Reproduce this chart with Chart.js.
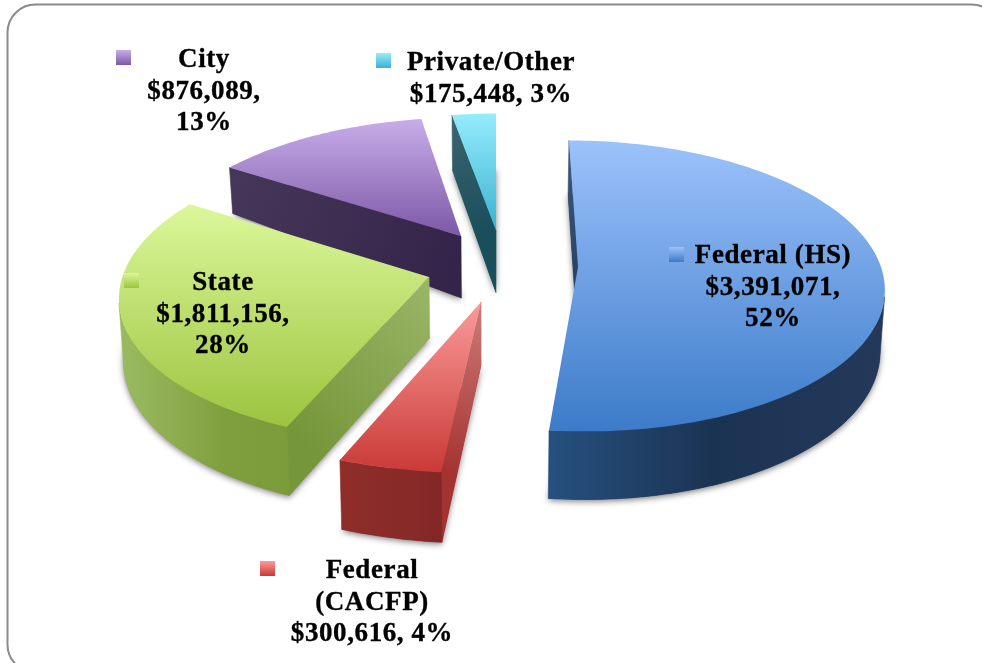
<!DOCTYPE html>
<html>
<head>
<meta charset="utf-8">
<title>Funding sources</title>
<script src="https://cdn.jsdelivr.net/npm/chart.js@4"></script>
<style>
  html, body { margin: 0; padding: 0; background: #fff; overflow: hidden; }
  canvas { display: block; }
</style>
</head>
<body>
<canvas id="pie" width="982" height="663"></canvas>
<script>
// data, in the order the slices run clockwise from the top
const categories = ['Federal (HS)', 'Federal (CACFP)', 'State', 'City', 'Private/Other'];
const amounts = [3391071, 300616, 1811156, 876089, 175448];
const labelLines = [
  ['Federal (HS)', '$3,391,071,', '52%'],
  ['Federal', '(CACFP)', '$300,616, 4%'],
  ['State', '$1,811,156,', '28%'],
  ['City', '$876,089,', '13%'],
  ['Private/Other', '$175,448, 3%']
];

// label placement
const labelX = [773, 372, 223, 204, 491];
const labelY = [263, 578, 290, 67, 70];
const keyX = [669, 260, 124, 116, 376];
const keyY = [247, 561, 273, 50, 53];

// fake 3d: how each exploded slice sits relative to the chart centre
const shiftX = [87, -10, -62, -30, 5];
const shiftY = [-64.5, -29.5, -54.5, -95.5, -101];
const radiusScale = [0.914, 1.1, 0.925, 0.92, 0.793];
const tilt = [0.472, 0.47, 0.473, 0.4658, 0.445];
const persp = [0.13, 0, 0.117, 0.2, 0];
const shear = [9, 0, -10, -3, 0];
const depth = [60, 63, 61, 62, 62];
const depthPersp = [0.12, 0.1, 0.12, 0.65, 0.127];
const drawOrder = [4, 3, 0, 2, 1];

// top face gradient, rim wall gradient (left to right), cut wall gradient (rim to apex)
const topColors = [['#9cc2fb', '#3c7bc9'], ['#fb9b9a', '#c93a36'], ['#dcf79b', '#9cc43f'], ['#c7ade9', '#7d58a6'], ['#95ecfd', '#3cb1cf']];
const rimColors = [['#26507f', '#1b3352', '#24395a'], ['#8f2d2a', '#872a28', '#7d2423'], ['#9aba60', '#7f9f3e', '#7a9a3a', '#759538'], ['#46385a', '#3a2a50', '#35244a'], ['#3d6570', '#2c5a66', '#194e5c']];
const cutColors = [['#3e5a80', '#2a4468'], ['#a33330', '#cf7a78'], ['#76963a', '#9ab668'], ['#46385a', '#35244a'], ['#3d6570', '#194e5c']];
const shadowColors = 'rgba(0,0,0,0.5)';

function project(arc, i, angle, r, low) {
  const u = r * Math.cos(angle), v = r * Math.sin(angle);
  const R = arc.outerRadius * radiusScale[i];
  const s = 1 / (1 - persp[i] * v);
  let x = arc.x + shiftX[i] + R * u * s + shear[i] * v;
  let y = arc.y + shiftY[i] + R * tilt[i] * v * s;
  if (low) {
    y += depth[i] / (1 - depthPersp[i] * v);
    x += (arc.x - x) * 0.012;
  }
  return { x, y };
}

function trace(ctx, pts) {
  ctx.beginPath();
  pts.forEach((p, n) => n ? ctx.lineTo(p.x, p.y) : ctx.moveTo(p.x, p.y));
  ctx.closePath();
}

function gradient(ctx, x0, y0, x1, y1, colors) {
  const g = ctx.createLinearGradient(x0, y0, x1, y1);
  colors.forEach((c, n) => g.addColorStop(n / (colors.length - 1), c));
  return g;
}

function signedArea(pts) {
  let a = 0;
  pts.forEach((p, n) => {
    const q = pts[(n + 1) % pts.length];
    a += p.x * q.y - q.x * p.y;
  });
  return a;
}

function fillWall(ctx, pts, style) {
  trace(ctx, pts);
  ctx.fillStyle = style;
  ctx.strokeStyle = style;
  ctx.lineWidth = 0.6;
  ctx.fill();
  ctx.stroke();
}

function drawSlice(ctx, arc, i) {
  const steps = Math.max(2, Math.ceil((arc.endAngle - arc.startAngle) / 0.02));
  const top = [project(arc, i, arc.startAngle, 0, false)];
  const low = [project(arc, i, arc.startAngle, 0, true)];
  for (let n = 0; n <= steps; n++) {
    const a = arc.startAngle + (arc.endAngle - arc.startAngle) * n / steps;
    top.push(project(arc, i, a, 1, false));
    low.push(project(arc, i, a, 1, true));
  }

  // soft shadow thrown by the underside
  ctx.save();
  ctx.shadowColor = shadowColors;
  ctx.shadowBlur = 6;
  ctx.shadowOffsetY = 2;
  trace(ctx, low);
  ctx.fillStyle = rimColors[i][1];
  ctx.fill();
  ctx.restore();

  const last = top.length - 1;

  // the two cut faces, only when they look toward us
  [[0, 1], [last, 0]].forEach(([n, m]) => {
    const quad = [top[n], top[m], low[m], low[n]];
    if (signedArea(quad) >= 0) return;
    const rim = n === 0 ? top[m] : top[n];
    fillWall(ctx, quad, gradient(ctx, rim.x, rim.y, top[0].x, top[0].y, cutColors[i]));
  });

  // curved outer wall, one polygon per visible run so no seams show
  const xs = low.map(p => p.x);
  const rimFill = gradient(ctx, Math.min(...xs), 0, Math.max(...xs), 0, rimColors[i]);
  let run = null;
  for (let n = 1; n <= last; n++) {
    const front = n < last && signedArea([top[n], top[n + 1], low[n + 1], low[n]]) < 0;
    if (front && run === null) run = n;
    if (!front && run !== null) {
      const upper = top.slice(run, n + 1);
      const lower = low.slice(run, n + 1).reverse();
      fillWall(ctx, upper.concat(lower), rimFill);
      run = null;
    }
  }

  const ys = top.map(p => p.y);
  trace(ctx, top);
  ctx.fillStyle = gradient(ctx, 0, Math.min(...ys), 0, Math.max(...ys), topColors[i]);
  ctx.fill();
}

const fancyPie = {
  id: 'fancyPie',
  beforeDraw(chart) {
    const ctx = chart.ctx;
    ctx.save();
    ctx.strokeStyle = '#8a8a8a';
    ctx.lineWidth = 2;
    ctx.beginPath();
    ctx.roundRect(7.5, 4.5, 992, 668, 28);
    ctx.stroke();
    ctx.restore();
  },
  beforeDatasetsDraw(chart) {
    const ctx = chart.ctx;
    const arcs = chart.getDatasetMeta(0).data;
    ctx.save();
    drawOrder.forEach(i => drawSlice(ctx, arcs[i], i));

    // labels with their little colour keys
    ctx.font = 'bold 27px "Liberation Serif"';
    ctx.letterSpacing = '0.6px';
    ctx.textAlign = 'center';
    ctx.textBaseline = 'alphabetic';
    ctx.strokeStyle = '#000';
    ctx.lineWidth = 0.35;
    labelLines.forEach((lines, i) => {
      ctx.fillStyle = gradient(ctx, 0, keyY[i], 0, keyY[i] + 15, topColors[i]);
      ctx.fillRect(keyX[i], keyY[i], 15, 15);
      ctx.fillStyle = '#000';
      lines.forEach((line, n) => {
        ctx.fillText(line, labelX[i], labelY[i] + n * 31.5);
        ctx.strokeText(line, labelX[i], labelY[i] + n * 31.5);
      });
    });
    ctx.restore();
    return false;
  }
};

new Chart(document.getElementById('pie'), {
  type: 'pie',
  data: {
    labels: categories,
    datasets: [{
      data: amounts,
      backgroundColor: topColors.map(c => c[1]),
      borderWidth: 0
    }]
  },
  options: {
    responsive: false,
    animation: false,
    rotation: 0,
    layout: { padding: 0 },
    plugins: {
      legend: { display: false },
      tooltip: { enabled: false }
    }
  },
  plugins: [fancyPie]
});
</script>
</body>
</html>
